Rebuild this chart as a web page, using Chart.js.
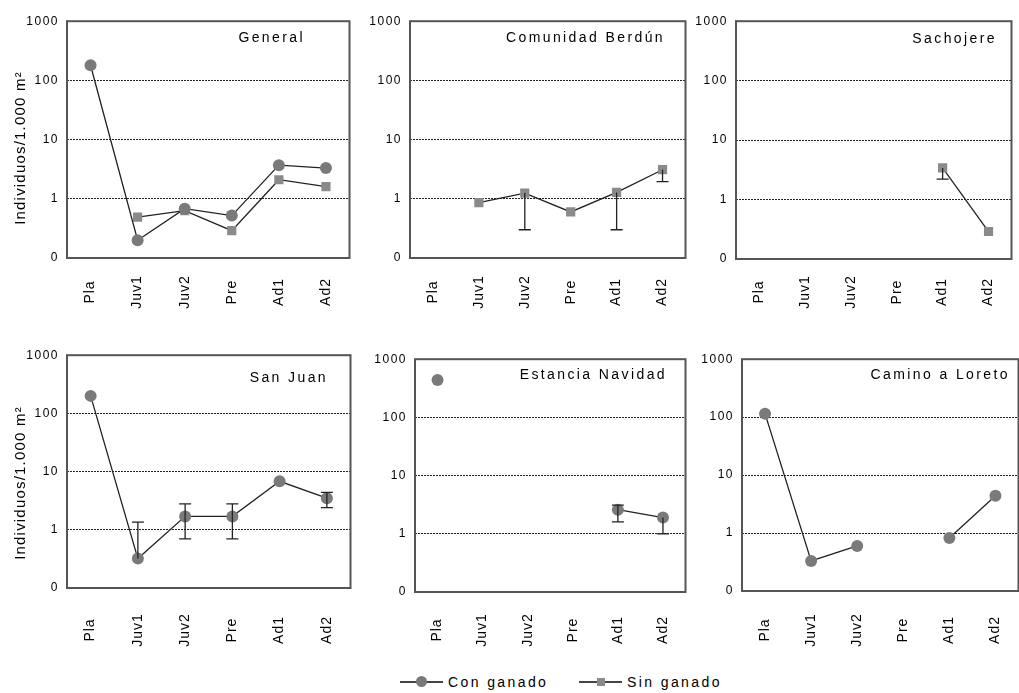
<!DOCTYPE html>
<html>
<head>
<meta charset="utf-8">
<script src="https://cdn.jsdelivr.net/npm/chart.js@4.4.1/dist/chart.umd.min.js"></script>
<style>
    html, body { margin: 0; padding: 0; background: #fff; overflow: hidden; }
    body { width: 1019px; height: 693px; position: relative; font-family: "Liberation Sans", Arial, sans-serif; }
    canvas { position: absolute; }
    .key { position: absolute; top: 681px; width: 43px; height: 2px; background: #444; }
    .key .dot { position: absolute; left: 16px; top: -5px; width: 11px; height: 11px; border-radius: 50%; background: #7a7a7a; }
    .key .sq { position: absolute; left: 18px; top: -3px; width: 8px; height: 8px; background: #8a8a8a; }
    .ltext { position: absolute; top: 673px; font-size: 14px; letter-spacing: 2.4px; color: #000; line-height: 18px; }
</style>
</head>
<body>
<canvas id="c0"></canvas>
<canvas id="c1"></canvas>
<canvas id="c2"></canvas>
<canvas id="c3"></canvas>
<canvas id="c4"></canvas>
<canvas id="c5"></canvas>

<div class="key" style="left:400px"><span class="dot"></span></div>
<div class="ltext" style="left:448px">Con ganado</div>
<div class="key" style="left:579px"><span class="sq"></span></div>
<div class="ltext" style="left:627px">Sin ganado</div>

<script>
// ---- data ----
const stages = ['Pla', 'Juv1', 'Juv2', 'Pre', 'Ad1', 'Ad2'];
const yTickValues = [0.1, 1, 10, 100, 1000];
const yTickLabels = ['0', '1', '10', '100', '1000'];
const siteNames = ['General', 'Comunidad Berdún', 'Sachojere', 'San Juan', 'Estancia Navidad', 'Camino a Loreto'];
const yTitle = 'Individuos/1.000 m²';

const generalCon = [180, 0.2, 0.68, 0.52, 3.7, 3.3];
const generalSin = [null, 0.49, 0.63, 0.29, 2.1, 1.6];

const berdunCon = [null, null, null, null, null, null];
const berdunSin = [null, 0.86, 1.25, 0.6, 1.28, 3.1];
const berdunSinLow = [null, null, 0.3, null, 0.3, 1.95];

const sachojereCon = [null, null, null, null, null, null];
const sachojereSin = [null, null, null, null, 3.4, 0.29];
const sachojereSinLow = [null, null, null, null, 2.2, null];

const sanJuanCon = [200, 0.32, 1.7, 1.7, 6.8, 3.5];
const sanJuanConLow = [null, null, 0.7, 0.7, null, 2.4];
const sanJuanConHigh = [null, 1.35, 2.8, 2.8, null, 4.4];
const sanJuanSin = [null, null, null, null, null, null];

const navidadCon = [440, null, null, null, 2.6, 1.9];
const navidadConLow = [null, null, null, null, 1.6, 1.0];
const navidadConHigh = [null, null, null, null, 3.1, null];
const navidadSin = [null, null, null, null, null, null];

const loretoCon = [115, 0.33, 0.6, null, 0.82, 4.4];
const loretoSin = [null, null, null, null, null, null];

// ---- layout (absolute page pixels of each plot area) ----
const FONT = '"Liberation Sans", Arial, sans-serif';
const PAD_TOP = 10, PAD_RIGHT = 4, X_H = 64;

const layouts = [
    { left: 67,  top: 16,  right: 352,  bottom: 258, yW: 67, titleRight: 305,  titleY: 38,  labelY: 292, yTitleY: 148 },
    { left: 410, top: 16,  right: 688,  bottom: 258, yW: 45, titleRight: 665,  titleY: 38,  labelY: 292 },
    { left: 736, top: 16,  right: 1014, bottom: 259, yW: 45, titleRight: 997,  titleY: 39,  labelY: 292 },
    { left: 67,  top: 350, right: 353,  bottom: 588, yW: 67, titleRight: 328,  titleY: 378, labelY: 630, yTitleY: 483 },
    { left: 415, top: 354, right: 688,  bottom: 592, yW: 45, titleRight: 667,  titleY: 375, labelY: 630 },
    { left: 742, top: 354, right: 1021, bottom: 591, yW: 45, titleRight: 1010, titleY: 375, labelY: 630 }
];

const panelSeries = [
    { con: generalCon,   sin: generalSin },
    { con: berdunCon,    sin: berdunSin,    sinLow: berdunSinLow },
    { con: sachojereCon, sin: sachojereSin, sinLow: sachojereSinLow },
    { con: sanJuanCon,   sin: sanJuanSin,   conLow: sanJuanConLow, conHigh: sanJuanConHigh },
    { con: navidadCon,   sin: navidadSin,   conLow: navidadConLow, conHigh: navidadConHigh },
    { con: loretoCon,    sin: loretoSin }
];

// draws frame, titles, rotated category labels and error bars
const panelDecor = {
    id: 'panelDecor',
    beforeDraw(chart) {
        chart.ctx.letterSpacing = '1.5px';
    },
    afterDatasetsDraw(chart) {
        const ctx = chart.ctx;
        const yScale = chart.scales.y;
        ctx.save();
        ctx.strokeStyle = '#222';
        ctx.lineWidth = 1.3;
        chart.data.datasets.forEach((ds, di) => {
            const meta = chart.getDatasetMeta(di);
            ds.data.forEach((v, i) => {
                if (v == null) return;
                const x = meta.data[i].x;
                const y = yScale.getPixelForValue(v);
                [ds.errLow, ds.errHigh].forEach(arr => {
                    if (!arr || arr[i] == null) return;
                    const ey = yScale.getPixelForValue(arr[i]);
                    ctx.beginPath();
                    ctx.moveTo(x, y);
                    ctx.lineTo(x, ey);
                    ctx.moveTo(x - 6, ey);
                    ctx.lineTo(x + 6, ey);
                    ctx.stroke();
                });
            });
        });
        ctx.restore();
    },
    afterDraw(chart, args, opts) {
        const ctx = chart.ctx;
        const a = chart.chartArea;
        const xScale = chart.scales.x;

        ctx.save();
        ctx.strokeStyle = '#555';
        ctx.lineWidth = 2;
        ctx.strokeRect(a.left, a.top, a.right - a.left, a.bottom - a.top);

        ctx.fillStyle = '#000';
        ctx.textBaseline = 'middle';

        // panel title
        ctx.letterSpacing = '2.4px';
        ctx.font = '14px ' + FONT;
        ctx.textAlign = 'right';
        ctx.fillText(opts.title, opts.titleRight - opts.ox, opts.titleY - opts.oy);

        // category labels, rotated and centred
        ctx.letterSpacing = '1px';
        ctx.font = '14px ' + FONT;
        ctx.textAlign = 'center';
        chart.data.labels.forEach((lab, i) => {
            const x = xScale.getPixelForTick(i);
            ctx.save();
            ctx.translate(x, opts.labelY - opts.oy);
            ctx.rotate(-Math.PI / 2);
            ctx.fillText(lab, 0, 0);
            ctx.restore();
        });

        // y axis title
        if (opts.yTitleY) {
            ctx.letterSpacing = '1.2px';
            ctx.font = '15px ' + FONT;
            ctx.save();
            ctx.translate(21 - opts.ox, opts.yTitleY - opts.oy);
            ctx.rotate(-Math.PI / 2);
            ctx.fillText(yTitle, 0, 0);
            ctx.restore();
        }
        ctx.restore();
    }
};

function makePanel(idx) {
    const L = layouts[idx];
    const S = panelSeries[idx];
    const canvas = document.getElementById('c' + idx);
    const ox = L.left - L.yW;
    const oy = L.top - PAD_TOP;
    const w = L.right - L.left + L.yW + PAD_RIGHT;
    const h = L.bottom - L.top + PAD_TOP + X_H;
    canvas.width = w;
    canvas.height = h;
    canvas.style.left = ox + 'px';
    canvas.style.top = oy + 'px';
    canvas.style.width = w + 'px';
    canvas.style.height = h + 'px';

    new Chart(canvas, {
        type: 'line',
        data: {
            labels: stages,
            datasets: [{
                label: 'Con ganado',
                data: S.con,
                errLow: S.conLow,
                errHigh: S.conHigh,
                borderColor: '#222',
                borderWidth: 1.3,
                pointStyle: 'circle',
                pointRadius: 6,
                pointBackgroundColor: '#7a7a7a',
                pointBorderColor: '#7a7a7a',
                pointBorderWidth: 0,
                tension: 0,
                spanGaps: false
            }, {
                label: 'Sin ganado',
                data: S.sin,
                errLow: S.sinLow,
                errHigh: S.sinHigh,
                borderColor: '#222',
                borderWidth: 1.3,
                pointStyle: 'rect',
                pointRadius: 6.5,
                pointBackgroundColor: '#8a8a8a',
                pointBorderColor: '#8a8a8a',
                pointBorderWidth: 0,
                tension: 0,
                spanGaps: false
            }]
        },
        options: {
            responsive: false,
            animation: false,
            devicePixelRatio: 1,
            layout: { padding: { top: PAD_TOP, right: PAD_RIGHT, left: 0, bottom: 0 } },
            plugins: {
                legend: { display: false },
                tooltip: { enabled: false },
                panelDecor: {
                    title: siteNames[idx],
                    titleRight: L.titleRight,
                    titleY: L.titleY,
                    labelY: L.labelY,
                    yTitleY: L.yTitleY,
                    ox: ox,
                    oy: oy
                }
            },
            scales: {
                x: {
                    type: 'category',
                    offset: true,
                    grid: { display: false, drawTicks: false },
                    border: { display: false },
                    ticks: { display: false },
                    afterFit: axis => { axis.height = X_H; }
                },
                y: {
                    type: 'logarithmic',
                    min: 0.1,
                    max: 1000,
                    afterBuildTicks: axis => { axis.ticks = yTickValues.map(v => ({ value: v })); },
                    afterFit: axis => { axis.width = L.yW; },
                    grid: {
                        drawTicks: false,
                        lineWidth: 1,
                        color: c => (c.tick && (c.tick.value === 0.1 || c.tick.value === 1000)) ? 'rgba(0,0,0,0)' : '#222'
                    },
                    border: { display: false, dash: [2, 1] },
                    ticks: {
                        color: '#000',
                        padding: 8,
                        font: { family: FONT, size: 12 },
                        callback: v => yTickLabels[yTickValues.indexOf(v)]
                    }
                }
            }
        },
        plugins: [panelDecor]
    });
}

for (let i = 0; i < layouts.length; i++) makePanel(i);
</script>
</body>
</html>
